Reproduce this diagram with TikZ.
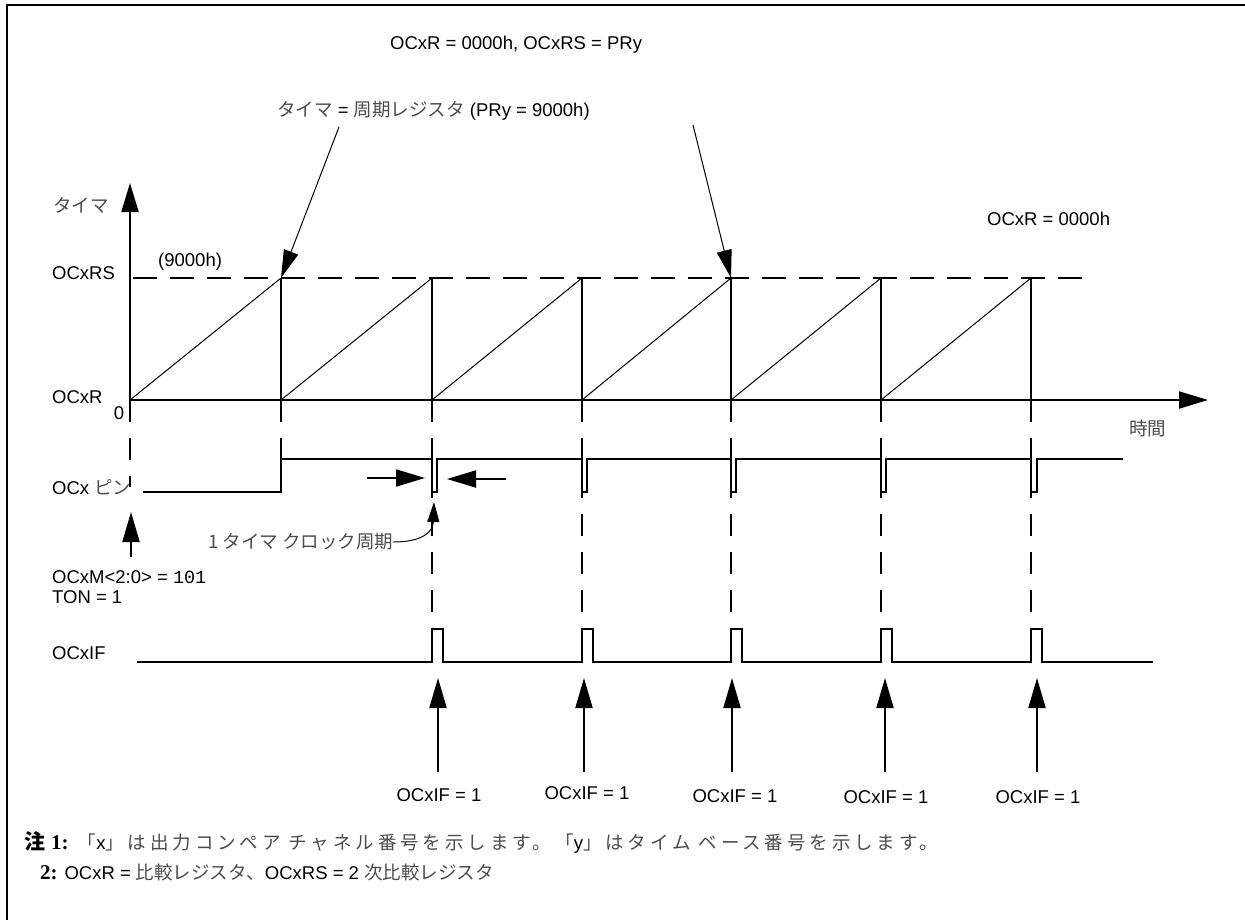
\documentclass[tikz,border=0pt]{standalone}
\usepackage{fontspec}
\setmainfont{Liberation Sans}
\newfontfamily\jpfont{Noto Sans CJK JP}
\newfontfamily\codefont{Liberation Mono}
\newfontfamily\notefont{Liberation Serif}
\usetikzlibrary{arrows.meta}
\definecolor{jgray}{gray}{0.3}
\newcommand\jg[1]{{\jpfont\color{jgray}#1}}
\newcommand\jgs[1]{{\jpfont\addfontfeature{LetterSpace=21}\color{jgray}#1}}
\begin{document}
\begin{tikzpicture}[x=1pt,y=-1pt,
  lbl/.style={inner sep=0pt, anchor=west, font=\fontsize{18.5}{22}\selectfont},
  clbl/.style={inner sep=0pt, font=\fontsize{18.5}{22}\selectfont},
  wave/.style={line width=2pt, line join=miter},
  ramp/.style={line width=1pt},
  guide/.style={line width=2pt, dash pattern=on 22pt off 16pt},
  topdash/.style={line width=2pt, dash pattern=on 24pt off 13pt},
  axis/.style={line width=2pt, -{Triangle[length=29pt,width=17pt]}},
  bigarrow/.style={line width=2pt, -{Triangle[length=30pt,width=17pt]}},
  thinarrow/.style={line width=1pt, -{Triangle[length=28pt,width=15pt]}},
  curvearrow/.style={line width=1pt, -{Triangle[length=20pt,width=12pt]}}
]
\useasboundingbox (0,0) rectangle (1245,919);
\fill[white] (0,0) rectangle (1245,919);
% frame
\draw[line width=2pt] (7,925) -- (7,5) -- (1250,5);

% top labels
\node[lbl] (cond) at (390,45) {OCxR = 0000h, OCxRS = PRy};
\node[lbl] (tper) at (277,111) {\jg{タイマ} = \jg{周期レジスタ} (PRy = 9000h)};
\coordinate (a1from) at (339,127);
\coordinate (a2from) at (693,125);

% axes
\coordinate (org) at (130,400);
\coordinate (ytip) at (130,183);
\coordinate (xtip) at (1208,400);
\draw[axis] (org) -- (ytip);
\draw[axis] (org) -- (xtip);
\node[lbl] (ylab) at (53,205) {\jg{タイマ}};
\node[lbl] (ocxrs) at (52,273) {OCxRS};
\node[lbl] (h9000) at (158,262) {(9000h)};
\node[lbl] (ocxr) at (52,397) {OCxR};
\node[clbl] (zero) at (119,413) {0};
\node[lbl] (ocxr0) at (987,219) {OCxR = 0000h};
\node[lbl] (time) at (1129,428) {\jg{時間}};

% timer ramps
\draw[topdash] (133,278) -- (1092,278);
\foreach \a/\b [count=\i] in {130/281,281/432,432/582,582/731,731/881,881/1031} {
  \coordinate (pk\i) at (\b,278);
  \draw[ramp] (\a,400) -- (pk\i);
  \draw[wave] (pk\i) -- (\b,400);
}
\draw[thinarrow] (a1from) -- (pk1);
\draw[thinarrow] (a2from) -- (pk4);

% dashed guides
\draw[guide] (130,400) -- (130,487);
\draw[guide] (281,400) -- (281,459);
\foreach \x in {432,582,731,881,1031} \draw[guide] (\x,400) -- (\x,629);

% OCx pin
\node[lbl] (pinlab) at (52,487) {OCx \jg{ピン}};
\draw[wave] (143,492) -- (281,492) -- (281,459) -- (432,459) -- (432,492) -- (437,492) -- (437,459)
  -- (582,459) -- (582,492) -- (587,492) -- (587,459)
  -- (731,459) -- (731,492) -- (736,492) -- (736,459)
  -- (881,459) -- (881,492) -- (886,492) -- (886,459)
  -- (1031,459) -- (1031,492) -- (1037,492) -- (1037,459) -- (1123,459);

% one clock period markers
\coordinate (hl) at (367,478);
\coordinate (hlt) at (425,478);
\coordinate (hr) at (506,479);
\coordinate (hrt) at (447,479);
\draw[bigarrow, -{Triangle[length=29pt,width=17pt]}] (hl) -- (hlt);
\draw[bigarrow, -{Triangle[length=29pt,width=17pt]}] (hr) -- (hrt);
\node[lbl] (clk) at (208,542) {\jg{1 タイマ クロック周期}};
\coordinate (clktip) at (434,502);
\draw[curvearrow] (clk.east) .. controls (422,542) and (433,532) .. (clktip);

% mode setting
\coordinate (modefrom) at (131,557);
\coordinate (modetip) at (131,512);
\draw[bigarrow] (modefrom) -- (modetip);
\node[lbl] (mode) at (52,577) {OCxM<2:0> = {\codefont 101}};
\node[lbl] (ton) at (52,597) {TON = 1};

% OCxIF
\node[lbl] (iflab) at (52,653) {OCxIF};
\draw[wave] (137,662) -- (432,662) -- (432,629) -- (443,629) -- (443,662)
  -- (582,662) -- (582,629) -- (593,629) -- (593,662)
  -- (731,662) -- (731,629) -- (742,629) -- (742,662)
  -- (881,662) -- (881,629) -- (892,629) -- (892,662)
  -- (1031,662) -- (1031,629) -- (1042,629) -- (1042,662) -- (1153,662);

\foreach \ax/\lx/\ly [count=\i] in {438/439/795,584/587/793,732/735/796,885/886/797,1037/1038/797} {
  \node[clbl] (if\i) at (\lx,\ly) {OCxIF = 1};
  \coordinate (ifb\i) at (\ax,772);
  \coordinate (ift\i) at (\ax,678);
  \draw[bigarrow] (ifb\i) -- (ift\i);
}

% notes
\node[lbl] (note1) at (24,842) {{\fontsize{21}{24}\selectfont{\jpfont\bfseries 注} {\notefont\bfseries 1:}}\enspace\jgs{「}x\jgs{」は出力コンペア チャネル番号を示します。「}y\jgs{」はタイム ベース番号を示します。}};
\node[lbl] (note2) at (40,872) {{\fontsize{21}{24}\selectfont\notefont\bfseries 2:} OCxR = \jg{比較レジスタ、}OCxRS = 2 \jg{次比較レジスタ}};
\end{tikzpicture}
\end{document}
